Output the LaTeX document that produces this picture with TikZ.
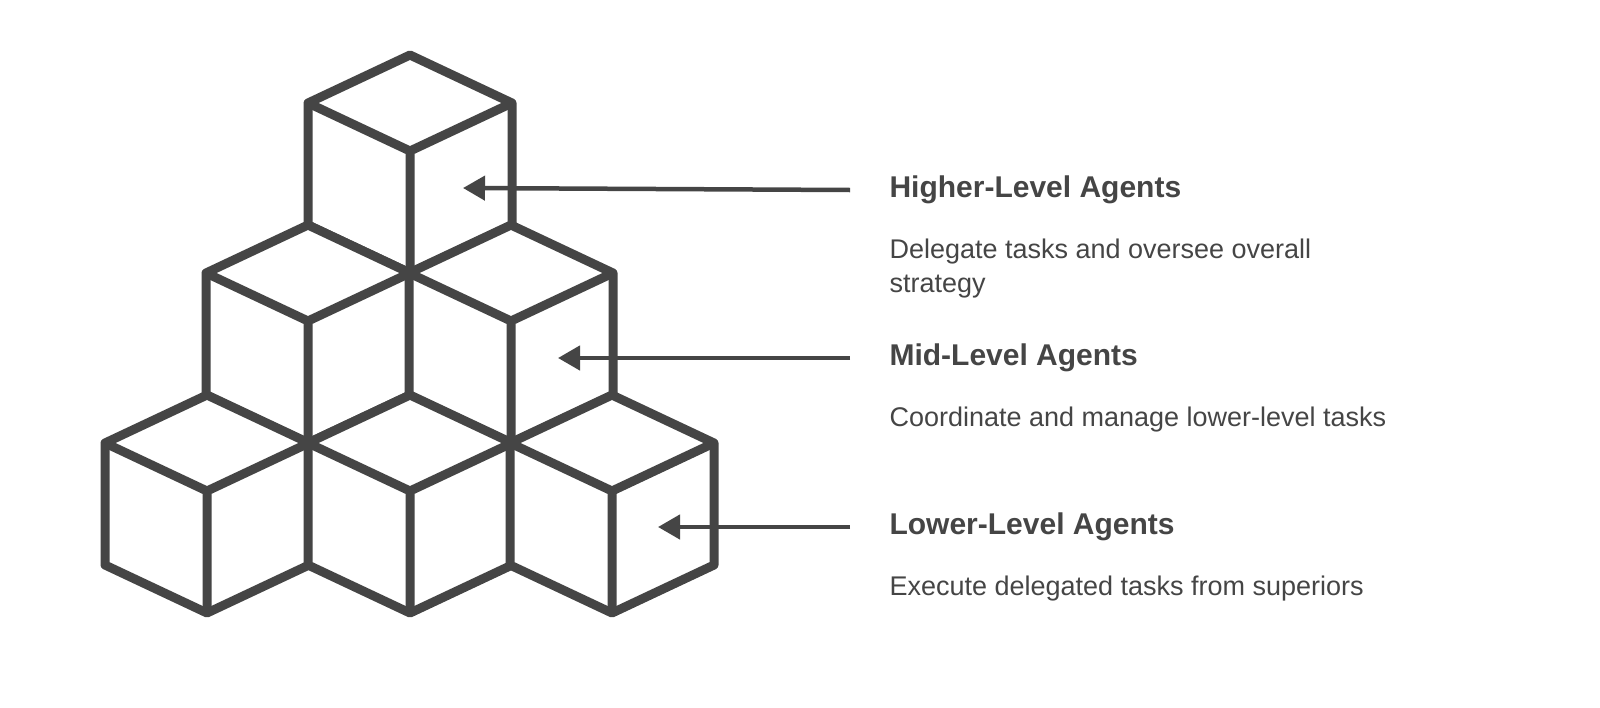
\documentclass[tikz,border=0pt]{standalone}
\usepackage{fontspec}
\setmainfont{Liberation Sans}
\usetikzlibrary{arrows.meta, positioning}
\definecolor{ink}{HTML}{454545}
\newcommand{\blockcube}[2]{%
  \filldraw[cube] (#1,#2) -- ++(102,48) -- ++(0,122) -- ++(-102,48)
    -- ++(-102,-48) -- ++(0,-122) -- cycle;
  \draw[cube] (#1-102,#2+48) -- (#1,#2+96) -- (#1+102,#2+48)
    (#1,#2+96) -- (#1,#2+218);}
\begin{document}
\begin{tikzpicture}
    [
        x=1pt, y=-1pt,
        cube/.style={draw=ink, fill=white, line width=9pt, line join=round},
        pointer/.style={draw=ink, line width=4.5pt, -{Triangle[length=22pt, width=24pt]}},
        title/.style={anchor=west, text=ink, font=\bfseries\fontsize{30}{36}\selectfont},
        desc/.style={anchor=north west, text=ink, align=left,
                     font=\fontsize{27}{34}\selectfont}
    ]
    \useasboundingbox (0,0) rectangle (1600,707);
    % stack of cubes, back to front
    \blockcube{410}{55}
    \foreach \cx in {308,511} {\blockcube{\cx}{225}}
    \foreach \cx in {207,410,612} {\blockcube{\cx}{395}}
    % labels
    \node (high) [title] at (886,190) {Higher-Level Agents};
    \node (highd) [desc, below right=28pt and 0pt of high.south west] {Delegate tasks and oversee overall\\strategy};
    \node (mid) [title] at (886,358) {Mid-Level Agents};
    \node (midd) [desc, below right=28pt and 0pt of mid.south west] {Coordinate and manage lower-level tasks};
    \node (low) [title] at (886,527) {Lower-Level Agents};
    \node (lowd) [desc, below right=28pt and 0pt of low.south west] {Execute delegated tasks from superiors};
    % arrows
    \coordinate (highp) at (463,188);
    \coordinate (midp) at (558,358);
    \coordinate (lowp) at (658,527);
    \draw[pointer] ([xshift=-36pt]high.west) -- (highp);
    \draw[pointer] ([xshift=-36pt]mid.west) -- (midp);
    \draw[pointer] ([xshift=-36pt]low.west) -- (lowp);
\end{tikzpicture}
\end{document}
